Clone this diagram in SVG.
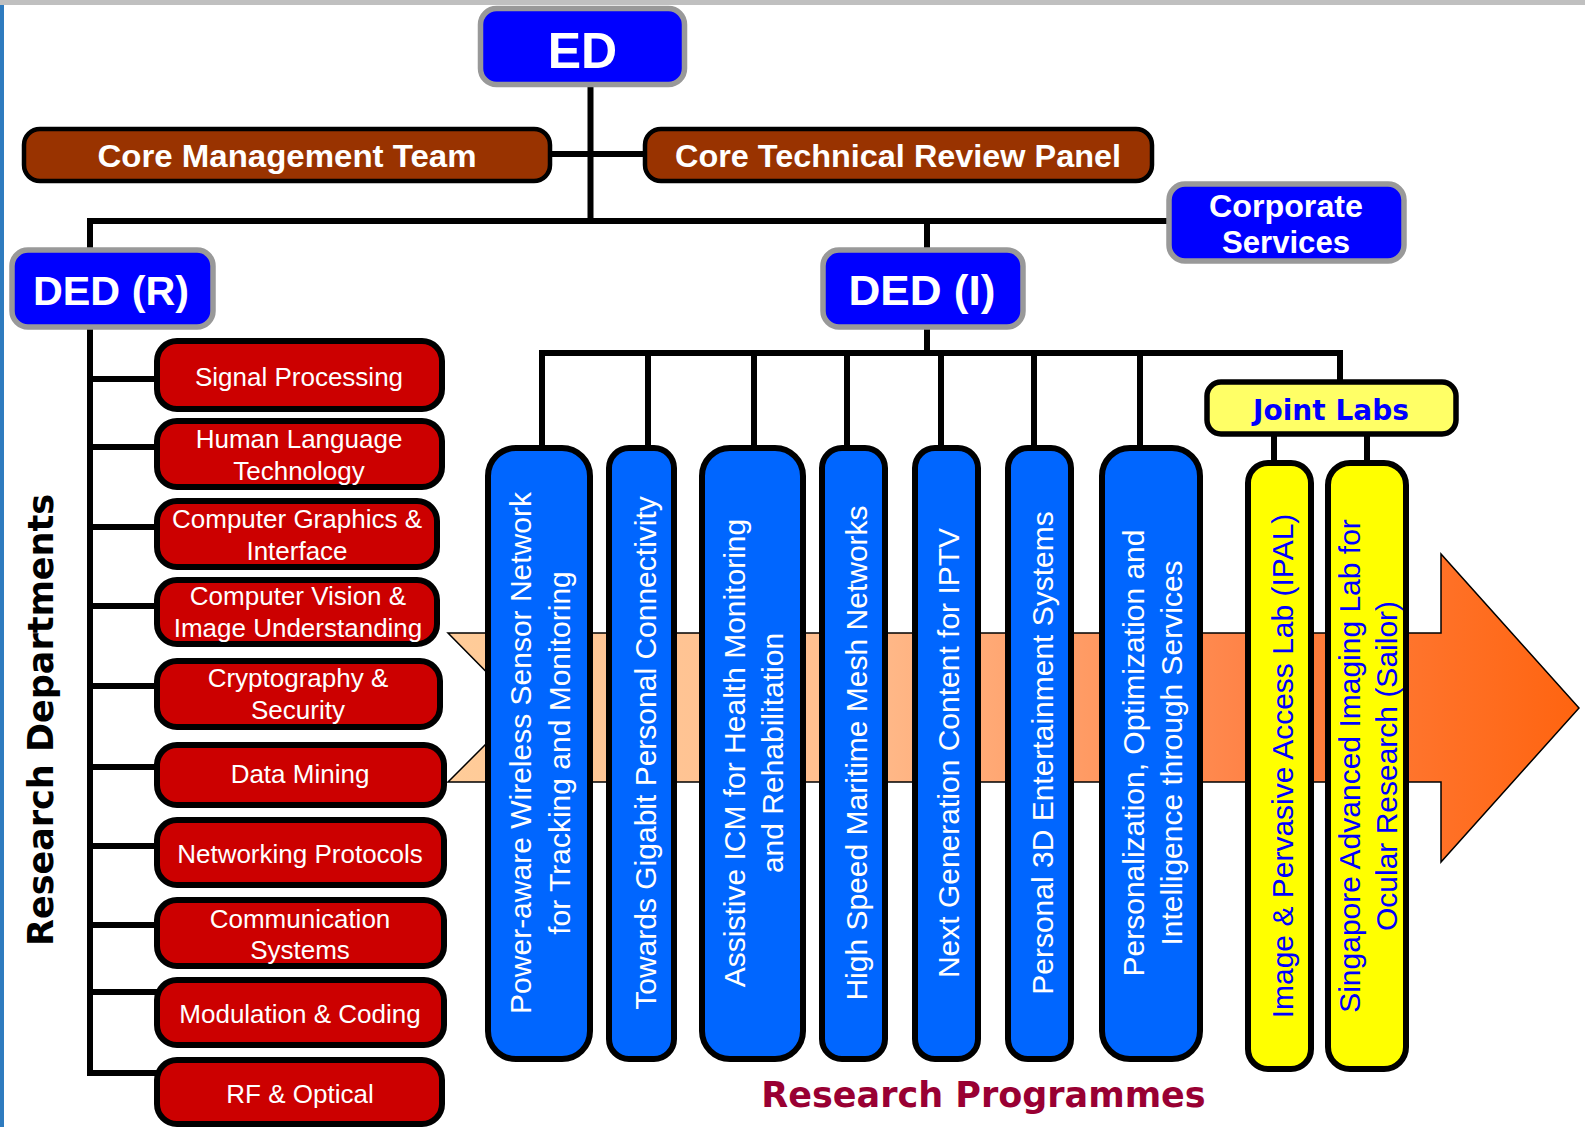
<svg xmlns="http://www.w3.org/2000/svg" width="1585" height="1127" viewBox="0 0 1585 1127">
<style>
.conn{fill:none;stroke:#000;stroke-width:6;stroke-linecap:square;stroke-linejoin:miter}
.exec{fill:#0000ff;stroke:#999999;stroke-width:5.5}
.brown{fill:#993300;stroke:#000;stroke-width:4.5}
.red{fill:#cc0000;stroke:#000;stroke-width:6}
.prog{fill:#0066ff;stroke:#000;stroke-width:6}
.lab{fill:#ffff00;stroke:#000;stroke-width:6}
.joint{fill:#ffff66;stroke:#000;stroke-width:5.5}
.tb{font-family:"Liberation Sans",Arial,sans-serif;font-weight:bold;fill:#fff;text-anchor:middle}
.td{font-family:"Liberation Sans",Arial,sans-serif;font-size:26px;fill:#fff;text-anchor:middle}
.tp{font-family:"Liberation Sans",Arial,sans-serif;font-size:30px;fill:#fff;text-anchor:middle}
.tl{font-family:"Liberation Sans",Arial,sans-serif;font-size:30px;fill:#0000ff;text-anchor:middle}
.title{font-family:"DejaVu Sans",Verdana,sans-serif;font-weight:bold;font-size:35px;text-anchor:middle}
</style>
<defs>
<linearGradient id="arrowGrad" gradientUnits="userSpaceOnUse" x1="448" y1="0" x2="1579" y2="0">
<stop offset="0" stop-color="#ffcc99"/>
<stop offset="0.35" stop-color="#ffbe8f"/>
<stop offset="0.7" stop-color="#ff8448"/>
<stop offset="1" stop-color="#ff6410"/>
</linearGradient>
</defs>
<rect x="0" y="0" width="1585" height="1127" fill="#fff"/>
<rect x="0" y="0" width="1585" height="5" fill="#c0c0c0"/>
<rect x="0" y="5" width="4" height="1122" fill="#2e7bbf"/>

<g id="arrow">
<polygon points="448,633 1441,633 1441,554 1579,708 1441,862 1441,782 448,782 522,708" fill="url(#arrowGrad)" stroke="#000" stroke-width="1.5"/>
</g>

<g id="connectors">
<path class="conn" d="M590.5 87 V221"/>
<path class="conn" d="M552 154 H643"/>
<path class="conn" d="M90 250 V221 H1169"/>
<path class="conn" d="M927 221 V250"/>
<path class="conn" d="M90 327 V1073 H157"/>
<path class="conn" d="M90 379 H157 M90 447 H157 M90 527 H157 M90 606 H157 M90 686 H157 M90 767 H157 M90 846 H157 M90 925 H157 M90 992 H157"/>
<path class="conn" d="M927 327 V353"/>
<path class="conn" d="M542 353 H1340"/>
<path class="conn" d="M542 353 V448 M648 353 V448 M754 353 V448 M847 353 V448 M941 353 V448 M1034 353 V448 M1140 353 V448 M1340 353 V382"/>
<path class="conn" d="M1274 434 V463 M1367 434 V463"/>
</g>

<g id="ed">
<rect class="exec" x="480.5" y="8.5" width="204" height="76" rx="16"/>
<text class="tb" x="582.5" y="68" font-size="50">ED</text>
</g>
<g id="core-management-team">
<rect class="brown" x="24" y="129" width="526" height="52" rx="16"/>
<text class="tb" x="287" y="167" font-size="31" textLength="379" lengthAdjust="spacingAndGlyphs">Core Management Team</text>
</g>
<g id="core-technical-review-panel">
<rect class="brown" x="645" y="129" width="507" height="52" rx="16"/>
<text class="tb" x="898" y="167" font-size="31" textLength="446" lengthAdjust="spacingAndGlyphs">Core Technical Review Panel</text>
</g>
<g id="corporate-services">
<rect class="exec" x="1169" y="184" width="235" height="77" rx="16"/>
<text class="tb" x="1286" y="217" font-size="31" textLength="154" lengthAdjust="spacingAndGlyphs">Corporate</text>
<text class="tb" x="1286" y="253" font-size="31" textLength="128" lengthAdjust="spacingAndGlyphs">Services</text>
</g>
<g id="ded-r">
<rect class="exec" x="12" y="250" width="201" height="77" rx="16"/>
<text class="tb" x="111" y="305" font-size="41" textLength="156" lengthAdjust="spacingAndGlyphs">DED (R)</text>
</g>
<g id="ded-i">
<rect class="exec" x="823" y="250" width="200" height="77" rx="16"/>
<text class="tb" x="922" y="305" font-size="42" textLength="147" lengthAdjust="spacingAndGlyphs">DED (I)</text>
</g>

<text class="title" transform="translate(53,720) rotate(-90)" x="0" y="0" fill="#000">Research Departments</text>

<g id="signal-processing">
<rect class="red" x="157" y="341" width="285" height="68" rx="20"/>
<text class="td" x="299" y="386">Signal Processing</text>
</g>
<g id="human-language-technology">
<rect class="red" x="157" y="421" width="285" height="66" rx="20"/>
<text class="td" x="299" y="448">Human Language</text>
<text class="td" x="299" y="480">Technology</text>
</g>
<g id="computer-graphics">
<rect class="red" x="157" y="501" width="280" height="66" rx="20"/>
<text class="td" x="297" y="528">Computer Graphics &amp;</text>
<text class="td" x="297" y="560">Interface</text>
</g>
<g id="computer-vision">
<rect class="red" x="157" y="580" width="280" height="64" rx="20"/>
<text class="td" x="298" y="605">Computer Vision &amp;</text>
<text class="td" x="298" y="637">Image Understanding</text>
</g>
<g id="cryptography">
<rect class="red" x="157" y="661" width="283" height="66" rx="20"/>
<text class="td" x="298" y="687">Cryptography &amp;</text>
<text class="td" x="298" y="719">Security</text>
</g>
<g id="data-mining">
<rect class="red" x="157" y="745" width="287" height="60" rx="20"/>
<text class="td" x="300" y="783">Data Mining</text>
</g>
<g id="networking-protocols">
<rect class="red" x="157" y="820" width="287" height="65" rx="20"/>
<text class="td" x="300" y="863">Networking Protocols</text>
</g>
<g id="communication-systems">
<rect class="red" x="157" y="900" width="287" height="66" rx="20"/>
<text class="td" x="300" y="928">Communication</text>
<text class="td" x="300" y="959">Systems</text>
</g>
<g id="modulation-coding">
<rect class="red" x="157" y="980" width="287" height="65" rx="20"/>
<text class="td" x="300" y="1023">Modulation &amp; Coding</text>
</g>
<g id="rf-optical">
<rect class="red" x="157" y="1060" width="285" height="64" rx="20"/>
<text class="td" x="300" y="1103">RF &amp; Optical</text>
</g>

<g id="prog-sensor-network">
<rect class="prog" x="488" y="448" width="102" height="611" rx="28"/>
<text class="tp" transform="translate(531,753) rotate(-90)">Power-aware Wireless Sensor Network</text>
<text class="tp" transform="translate(570,753) rotate(-90)">for Tracking and Monitoring</text>
</g>
<g id="prog-gigabit">
<rect class="prog" x="609" y="448" width="65" height="611" rx="20"/>
<text class="tp" transform="translate(656,753) rotate(-90)">Towards Gigabit Personal Connectivity</text>
</g>
<g id="prog-assistive-icm">
<rect class="prog" x="702" y="448" width="101" height="611" rx="28"/>
<text class="tp" transform="translate(745,753) rotate(-90)">Assistive ICM for Health Monitoring</text>
<text class="tp" transform="translate(783,753) rotate(-90)">and Rehabilitation</text>
</g>
<g id="prog-maritime-mesh">
<rect class="prog" x="822" y="448" width="63" height="611" rx="20"/>
<text class="tp" transform="translate(867,753) rotate(-90)">High Speed Maritime Mesh Networks</text>
</g>
<g id="prog-iptv">
<rect class="prog" x="915" y="448" width="63" height="611" rx="20"/>
<text class="tp" transform="translate(959,753) rotate(-90)">Next Generation Content for IPTV</text>
</g>
<g id="prog-3d-entertainment">
<rect class="prog" x="1008" y="448" width="63" height="611" rx="20"/>
<text class="tp" transform="translate(1053,753) rotate(-90)">Personal 3D Entertainment Systems</text>
</g>
<g id="prog-personalization">
<rect class="prog" x="1102" y="448" width="98" height="611" rx="28"/>
<text class="tp" transform="translate(1144,753) rotate(-90)">Personalization, Optimization and</text>
<text class="tp" transform="translate(1182,753) rotate(-90)">Intelligence through Services</text>
</g>

<g id="joint-labs">
<rect class="joint" x="1207" y="382" width="249" height="52" rx="14"/>
<text x="1331" y="420" font-family="'DejaVu Sans',Verdana,sans-serif" font-weight="bold" font-size="28" fill="#0000ff" text-anchor="middle">Joint Labs</text>
</g>
<g id="lab-ipal">
<rect class="lab" x="1248" y="463" width="63" height="606" rx="20"/>
<text class="tl" transform="translate(1293,766) rotate(-90)">Image &amp; Pervasive Access Lab (IPAL)</text>
</g>
<g id="lab-sailor">
<rect class="lab" x="1328" y="463" width="78" height="606" rx="22"/>
<text class="tl" transform="translate(1360,766) rotate(-90)">Singapore Advanced Imaging Lab for</text>
<text class="tl" transform="translate(1397,766) rotate(-90)">Ocular Research (Sailor)</text>
</g>

<text class="title" x="983.5" y="1107" fill="#990033">Research Programmes</text>
</svg>
